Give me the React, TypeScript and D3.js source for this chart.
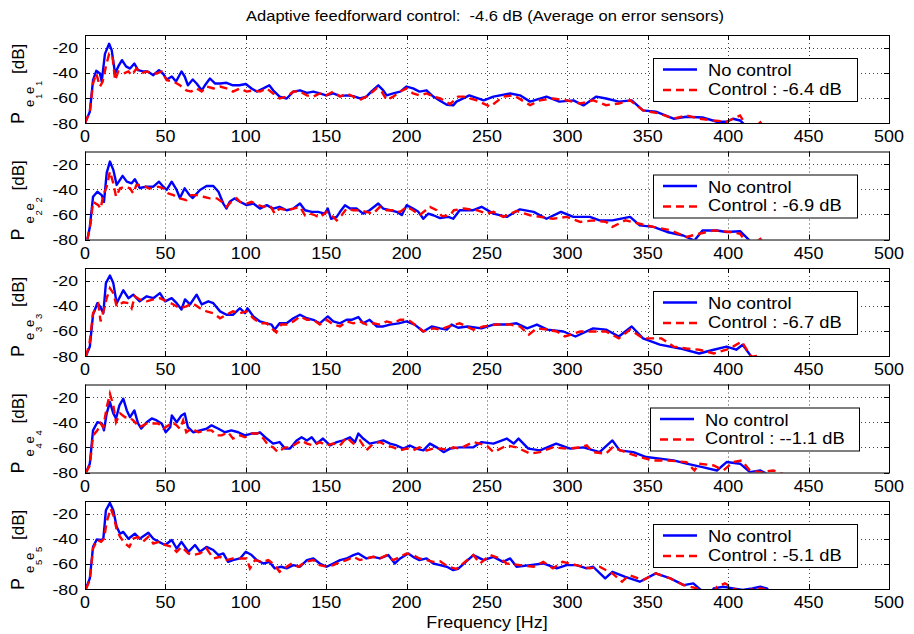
import React from 'react';
import * as d3 from 'd3';

type Pt = [number, number];

// frequency [Hz] / level [dB]
const freqTicks = [0, 50, 100, 150, 200, 250, 300, 350, 400, 450, 500];
const dbTicks = [-80, -60, -40, -20];
const controlGains = ['-6.4', '-6.9', '-6.7', '--1.1', '-5.1'];

const noControl1: Pt[] = [[0,-80],[3,-71],[5,-46],[7,-38.5],[9.3,-40.6],[10.4,-47],[12.4,-25],[15,-17],[16.6,-22],[18.7,-40.6],[20.7,-35],[23,-30],[25.5,-35],[28,-36.7],[30.7,-32.7],[33,-38],[36,-39],[39,-39],[42.5,-42],[46,-38],[48.7,-41],[50.8,-45.4],[54,-43],[56.6,-47],[60,-39],[62,-43],[64,-50],[67,-45.4],[69.4,-48.6],[72.6,-54],[74.6,-50],[77.7,-44.6],[81,-48.6],[84,-48.6],[88,-48],[92,-50],[96,-50],[100,-49],[103.6,-52.5],[106.8,-55],[111,-52.5],[114.6,-50],[117,-54],[121,-59],[125.4,-60.5],[129.6,-55],[133.7,-54],[138,-56],[142,-55],[146,-56.5],[150,-58],[154.4,-56.5],[158.6,-58.6],[162.7,-58],[166.9,-58.6],[171,-60.5],[175,-59],[178,-55],[182.4,-50],[185.5,-54],[187.6,-58],[191.7,-56.5],[196,-55],[200,-51],[204,-52.5],[208,-55],[212.4,-54],[216.6,-59],[221,-62.5],[225,-65.5],[229,-66],[231,-63],[239,-58],[248,-62],[254,-59],[264.4,-56.5],[270.5,-58],[276.8,-63],[287,-59],[295,-63],[303.7,-62],[310,-66],[318,-59],[324,-60.5],[332,-63],[340,-62],[347,-70],[355,-71],[366,-76.6],[374,-75],[384,-75.6],[393,-79],[399,-79],[403,-76.6],[407.4,-78],[411.5,-83],[414,-88]];
const control1: Pt[] = [[0,-80],[3,-71],[5,-48.6],[7,-40.6],[9.3,-51],[11,-47],[13,-35],[15,-25],[17,-26],[18.7,-46],[20.7,-39],[24,-40.6],[27,-39],[29,-42],[32,-36.7],[35,-40.6],[38,-39],[41.5,-40.6],[44.6,-40.6],[47.7,-39],[50.8,-46],[55,-47],[59,-50],[63,-54],[66,-55],[69.4,-52.5],[72.6,-55],[75.6,-51],[80,-52.5],[84,-51],[88,-52.5],[92,-55],[96.4,-52.5],[100.5,-55],[104.6,-54],[108.8,-55],[113,-52.5],[117,-56.5],[121,-60.5],[125.4,-59],[129.6,-55],[133.7,-55],[138,-58],[142,-59],[146,-56.5],[150,-58],[154.4,-55],[158.6,-59],[162.7,-56.5],[166.9,-59],[171,-61.6],[175,-59],[181.4,-52.5],[184.5,-55],[187.6,-61.6],[191.7,-59],[196,-55],[200,-52.5],[204,-56.5],[208,-58],[212.4,-56.5],[216.6,-59],[221,-60.5],[227,-65],[232,-59],[235.4,-59],[243.6,-62],[252,-67],[260,-59],[266.6,-58],[276.8,-65.8],[283,-62],[291,-60.5],[299.5,-62],[308,-64.5],[316,-62],[324,-65.8],[332,-64.5],[339,-62],[347,-70],[357,-72.4],[366,-76.6],[374,-74],[382,-76.6],[391,-78],[399,-79],[407.4,-74],[411.5,-83],[416,-84],[420,-79.5],[423,-85]];

const noControl2: Pt[] = [[1.5,-80],[3,-70],[5,-46],[7.7,-42],[10.4,-44.7],[11.8,-50],[13.5,-27],[15.5,-18],[17.6,-24.6],[19.7,-36.6],[23.4,-29.4],[26,-34],[29,-35.3],[31,-32],[34,-39],[38,-38],[42.5,-38],[46,-34],[48.7,-38],[50.8,-40.6],[53.9,-34],[57,-40.6],[59,-47],[62,-39.3],[65,-44.7],[67,-47],[71.5,-40.6],[75.6,-37.4],[79.8,-37.4],[83,-42],[86,-51.4],[88,-55.4],[90,-50],[93,-47.3],[96.4,-50],[100.5,-52.7],[104.7,-51.4],[108.8,-55.4],[113,-52.7],[117,-55.4],[121,-54],[125.4,-56.7],[129.6,-55.4],[133.7,-51.4],[136.8,-56.7],[141,-58],[145,-58],[149,-59.4],[151,-55.4],[153,-63.5],[156.5,-62],[158.6,-58],[161.7,-52.7],[164.8,-55.4],[169,-55.4],[173,-59.4],[177,-56.7],[182.4,-51.4],[185.5,-55.4],[189.7,-56.7],[193.8,-58],[197,-60.6],[200,-52.7],[204,-55.4],[207.3,-58],[210.4,-63.5],[213.5,-59.4],[216.6,-60.7],[220.8,-63],[226,-62],[229,-63.5],[233,-56.7],[241.5,-56.7],[246.6,-54],[254,-59.4],[262.3,-62],[270.5,-56],[279,-58],[287,-63.5],[296,-58],[303.7,-62],[314,-62],[320,-64.8],[328,-64.8],[339,-62],[345,-68.8],[353.5,-70],[362,-74],[372,-76.8],[379,-80.8],[384,-72.8],[393,-72.8],[399,-74],[407.4,-73.4],[413.5,-81],[416,-86]];
const control2: Pt[] = [[1.5,-80],[3.5,-67],[5,-50],[8.3,-52.7],[9.7,-55.4],[11.4,-44.7],[13.5,-38],[15.5,-26],[17.6,-35.3],[19.3,-46],[21.8,-39.3],[24.9,-38],[28,-39.3],[30,-43.3],[32,-36.6],[36,-36.6],[39.4,-39.3],[42.5,-39.3],[45.6,-38],[48.7,-39.3],[51.8,-43.3],[55,-44.7],[59,-47.3],[63,-48.7],[66,-44.7],[69.4,-44.7],[73.6,-46],[77.7,-47.3],[82,-47.3],[85,-50],[88,-54],[91,-50],[94.3,-47.3],[96.4,-50],[100.5,-51.4],[103.6,-50],[107.8,-52.7],[111,-54],[115,-52.7],[118,-59.4],[121,-55.4],[125.4,-56.7],[129.6,-55.4],[133.7,-54],[136.8,-60.7],[140,-59.4],[143,-60.7],[146,-62.6],[150.3,-58],[154.4,-62],[156.5,-64.8],[159.6,-60.7],[162.7,-55.4],[166.9,-56.7],[171,-56.7],[175,-58],[179.3,-59.4],[183.4,-54],[187.6,-56.7],[191.7,-56.7],[196,-58],[200,-54],[204,-56.7],[208,-60.7],[214.5,-54],[218.7,-56.7],[222,-61.5],[227,-60.7],[229.4,-56.7],[235.6,-55.4],[243.6,-56.7],[249.8,-59.4],[254,-58],[260,-62],[268.4,-57.3],[276.8,-60.7],[283,-62],[291,-63.5],[299.5,-62],[308,-66],[316,-64.8],[324,-66],[328,-70],[336,-64.8],[345,-67.5],[353.5,-70],[364,-72.6],[374,-78],[382,-75.4],[391,-72.8],[401,-74],[407.4,-75.4],[410.6,-81],[415,-84],[420,-79.5],[423,-85]];

const noControl3: Pt[] = [[0.6,-80],[3,-72.5],[5,-47],[7.7,-38],[9.3,-40.5],[11.4,-46],[13,-22],[15.5,-16],[17.6,-22],[19.7,-38],[23.8,-27.7],[27,-34],[30,-31.2],[34,-36.5],[38.4,-32.5],[42.5,-34],[46.6,-30],[49.8,-36.5],[53.9,-34],[57,-38],[60,-43],[62.2,-35],[65.3,-39],[69.4,-31.2],[72.6,-39],[76.7,-36.5],[79.8,-38],[84,-44.5],[88,-47.2],[92,-47.2],[96.4,-42],[99.5,-46],[101,-42],[104.7,-48.5],[108.8,-52.5],[113,-54],[116,-55],[118,-59],[121,-54],[125.4,-54],[129.6,-50],[133.7,-47.2],[138,-50],[142,-51.2],[146,-54],[151,-48.5],[154.4,-52.5],[158.6,-54],[162.7,-51.2],[165.8,-51.2],[170,-49],[173,-54],[177,-51.2],[181.4,-56.5],[185.5,-56.5],[189.7,-55],[195,-54],[200,-52.5],[205,-55],[210.4,-60.5],[215.6,-56.5],[220.8,-58],[225,-59],[228,-55],[232,-57.5],[238,-56.5],[246.6,-58],[254,-55],[262.3,-55],[268.4,-54],[275,-58],[281,-55],[287.6,-59],[297.5,-60.5],[305,-64.5],[316,-58],[324,-59],[332,-64.5],[340,-56.5],[347,-66],[357.5,-71],[370,-74],[382,-78],[391,-75],[399,-72.5],[405,-75],[409,-71],[414.4,-80.5],[418,-86]];
const control3: Pt[] = [[0.6,-80],[2.7,-71],[5,-46],[8.3,-39],[9.7,-52.5],[11.8,-43],[13.5,-34],[15.5,-26],[17.6,-30],[19.7,-40.5],[23.8,-37.3],[27,-38],[29,-42],[31,-32.5],[34,-35],[38.4,-36.5],[42.5,-35],[46.6,-34],[50.8,-36.5],[55,-39],[59,-42],[63,-40.5],[67,-38],[71.5,-42],[75.6,-44.5],[79.8,-46],[84,-50],[88,-47.2],[92,-44.5],[96.4,-46],[100.5,-44.5],[104.7,-50],[108.8,-54],[113,-54],[117,-59],[119,-61.3],[122,-55],[125.4,-55],[129.6,-52.5],[133.7,-48.5],[138,-51.2],[142,-51.2],[146,-55],[150.3,-51.2],[154.4,-55],[158.6,-56.5],[162.7,-52.5],[166.9,-54],[171,-52.5],[175,-55],[179.3,-54],[183.4,-55],[187.6,-52.5],[191.7,-54],[196,-51.2],[201,-51.2],[205,-55],[210.4,-60.5],[216.6,-58],[220.8,-59],[227,-56],[233,-54],[241.5,-59],[247.7,-56.5],[256,-55],[264.4,-55],[270.5,-56.5],[276,-63],[281,-58],[287.6,-59],[293.4,-60.5],[298.5,-64.5],[308,-60.5],[316,-60.5],[324,-60.5],[332,-66],[339,-59],[347,-66],[358.5,-66],[366,-72.5],[374,-74],[382,-75],[391,-78],[399,-75],[403,-72.5],[408.4,-68.5],[411.5,-75],[414.4,-80.5],[418,-80],[421,-85]];

const noControl4: Pt[] = [[0.6,-80],[3,-73],[5,-46.5],[7.7,-40],[10.4,-41],[11.8,-46.5],[13.5,-33],[15.5,-24],[17.6,-33],[19.3,-37],[21.4,-26.6],[23.8,-21.3],[26,-30.6],[28,-36],[30.7,-30.6],[33,-41],[35,-45],[38.4,-40],[41.5,-37],[44.6,-38.6],[47.7,-41],[50.2,-48],[53,-44],[54,-34.6],[57,-40],[60,-34.6],[62,-33],[64,-44],[67.4,-48],[71.5,-46.5],[75.6,-45.2],[78.7,-42.5],[83,-45.2],[87,-48],[91,-46.5],[95.3,-48],[99.5,-50.5],[103.6,-49],[106.8,-49],[108.8,-48],[113,-53],[117,-57],[121,-55.8],[124.4,-61],[127.5,-61],[131.6,-54.5],[134.7,-52],[138,-54.5],[141,-52],[144,-57],[148,-53],[152.4,-58.5],[156.5,-55.8],[160.6,-54.5],[164.8,-52],[167.9,-55.8],[170,-49],[173,-53],[177,-57],[181.4,-55.8],[185.5,-54.5],[189.7,-57],[193.8,-58.5],[198,-61],[202,-58.5],[206,-61],[210.4,-62.4],[214.5,-57],[218.7,-60],[223,-63.8],[227,-61],[233,-60],[241.5,-60],[246.6,-55.8],[254,-57],[262.3,-53],[266.6,-57],[269.6,-53],[275.7,-61],[283,-62.4],[293,-57],[301.6,-61],[310,-60],[320,-63.8],[328,-54.5],[332.5,-62.4],[341,-63.8],[349,-67.7],[357.5,-69],[366,-70.4],[374,-73],[384,-75.7],[393,-78.4],[399,-71.7],[407.4,-73],[413.5,-79.7],[420,-78.4],[424,-81],[427,-85]];
const control4: Pt[] = [[0.6,-80],[3,-74.4],[5,-50.5],[7.7,-46.5],[9.7,-41],[11.4,-44],[13.5,-28],[15.5,-17.3],[17.6,-26.6],[19.3,-40],[21.8,-33],[24.9,-36],[27.6,-36],[30,-38.6],[34,-44],[38.4,-41],[42.5,-41],[45.6,-41],[48.7,-45.2],[52,-42.5],[54,-40],[57,-42.5],[59,-45.2],[61,-38.6],[63,-48],[66.3,-45.2],[70.5,-48],[74.6,-46.5],[78.7,-46.5],[82,-50.5],[85,-50.5],[89,-48],[92,-53],[96.4,-50.5],[99.5,-52],[103.6,-49],[107.8,-49],[111,-53],[114,-58.5],[117,-60],[120,-63.8],[124.4,-60],[127.5,-60],[131.6,-57],[134.7,-54.5],[138,-57],[142,-58.5],[146,-55.8],[150.3,-58.5],[154.4,-57],[158.6,-58.5],[162.7,-52],[166.9,-57],[171,-54.5],[175,-62.4],[179.3,-57],[183.4,-55.8],[187.6,-58.5],[191.7,-60],[196,-62.4],[200,-61],[204,-62.4],[208,-60],[212.4,-62.4],[216.6,-61],[220.8,-61],[226,-62],[229,-60],[233,-61],[241.5,-55.8],[249.8,-58.5],[254,-63.8],[262.3,-58.5],[268.4,-60],[276.8,-65],[283,-63.8],[291,-60],[299.5,-61],[308,-60],[312,-58.5],[316,-63.8],[324,-65],[328,-60],[336,-63.8],[345,-67.7],[353.5,-70.4],[361.6,-70.4],[374,-71.7],[379,-78.4],[382,-73],[391,-74.4],[397,-78.4],[403,-71.7],[408.4,-70.4],[413.5,-78.4],[420,-79.7],[428,-78.4],[434,-81],[437,-85]];

const noControl5: Pt[] = [[0.6,-79.5],[3,-71.6],[5,-46.5],[7.3,-40.6],[10,-41],[11.4,-40],[13,-17.4],[15.5,-11.5],[17.6,-17.4],[19.7,-30.6],[21.8,-36],[23.8,-34.6],[27,-40],[31,-36],[34,-40],[39.4,-35.3],[42.5,-40],[46,-42.5],[49.8,-45],[53.9,-41],[57,-47.8],[60,-42.5],[64.3,-50.4],[68.4,-45],[71.5,-50.4],[75.6,-46.5],[79.8,-49],[83,-53],[86,-51.7],[89,-58.4],[92,-57],[96.4,-55.7],[100,-50.4],[103.6,-53],[106.8,-57],[111,-59.7],[114.6,-58.4],[118,-63.6],[122,-62.3],[125.4,-63.6],[129.6,-61],[133.7,-62.3],[138,-57],[142,-55.7],[146,-59.7],[150.3,-62.3],[154.4,-59.7],[158.6,-57],[162.7,-55.7],[166.9,-53],[170,-51.7],[175,-55.7],[179.3,-54.4],[183.4,-55.7],[188.6,-53],[192.7,-59.7],[196,-55.7],[201,-51.7],[204,-54.4],[208,-57],[212.4,-55.7],[216.6,-59.7],[220.8,-61],[225,-62.3],[229,-65],[232,-64],[241.5,-53],[248,-57],[254,-54.4],[260,-58.4],[264.4,-55.7],[268.4,-62.3],[276.8,-61],[285,-59.7],[293.4,-63.6],[299.5,-61],[305.6,-61],[312,-63.6],[316,-62.3],[323.5,-71.6],[328,-66.3],[336,-70.3],[345,-74.2],[355,-67.6],[364,-71.6],[372.4,-76.9],[378.3,-75.5],[383,-80.8],[387,-85],[390,-82],[391,-79.5],[397,-78.2],[403,-79.5],[409,-80.8],[415,-79.5],[420,-78.2],[424,-79.5],[427,-84]];
const control5: Pt[] = [[0.6,-80],[3,-73],[5,-47.8],[7.7,-41],[10,-42.5],[11.8,-40],[13.5,-26.6],[16,-16],[18,-22.6],[19.7,-33],[21.8,-38.5],[24.9,-43.8],[27.6,-46.5],[30,-40],[33,-38.5],[36,-42.5],[39.4,-38.5],[42.5,-43.8],[46,-42.5],[49.8,-45],[53.9,-46.5],[57,-50.4],[60,-46.5],[64.3,-51.7],[67.4,-53],[71.5,-51.7],[75.6,-47.8],[79.8,-55.7],[84,-54.4],[88,-57],[92,-55.7],[96.4,-55.7],[100.5,-55.7],[102.6,-63.6],[105.7,-57],[110,-58.4],[114,-57],[118,-61],[121,-66.3],[125.4,-62.3],[128.6,-59.7],[132.7,-62.3],[137,-58.4],[142,-57],[146,-61],[150.3,-62.3],[154.4,-61],[158.6,-58.4],[162.7,-57],[166.9,-54.4],[171,-57],[175,-55.7],[179.3,-54.4],[183.4,-55.7],[187.6,-53],[191.7,-57],[196,-54.4],[200,-51.7],[204,-53],[208,-55.7],[212.4,-57],[216.6,-58.4],[220.8,-58],[226,-62.3],[231,-64],[241.5,-53],[245.6,-59.7],[252,-53],[258,-55.7],[262.3,-59.7],[270.5,-61],[279,-62.3],[285,-58.4],[291,-63.6],[297,-58.4],[305.6,-61],[314,-63.6],[320,-62.3],[328,-67.6],[334,-74.2],[338.5,-68.9],[347,-72.9],[355,-67.6],[364,-71.6],[372.4,-76.9],[380.4,-79.5],[384,-85],[390,-84],[393,-78.2],[398,-75.5],[403,-79.5],[408,-82],[413.5,-80.8],[420,-79.5],[424,-80.8],[427,-85]];

const noControlSeries = [noControl1, noControl2, noControl3, noControl4, noControl5];
const controlSeries = [control1, control2, control3, control4, control5];

const W = 914;
const H = 634;
const left = 85;
const right = 889;
const firstTop = 35;
const panelStep = 116.5;
const panelH = 88;
const font = '"Liberation Sans", Arial, Helvetica, sans-serif';

const x = d3.scaleLinear().domain([0, 500]).range([left, right]);

function Legend({ top, gain }) {
    const long = gain.length > 4;
    const x0 = long ? 650 : 653;
    const x1 = long ? 859 : 857;
    const y0 = top + 23;
    return (
        <g>
            <rect x={x0 + 0.5} y={y0 + 0.5} width={x1 - x0} height={43} fill="#fff" stroke="#000" strokeWidth={1}/>
            <line x1={x0 + 10} x2={x0 + 44} y1={y0 + 11.5} y2={y0 + 11.5} stroke="#0000ff" strokeWidth={2.6}/>
            <line x1={x0 + 10} x2={x0 + 44} y1={y0 + 32} y2={y0 + 32} stroke="#ff0000" strokeWidth={2.6} strokeDasharray="8 5"/>
            <text transform={`translate(${x0 + 55},${y0 + 18}) scale(1.08,1)`} fontSize={17}>No control</text>
            <text transform={`translate(${x0 + 55},${y0 + 36.5}) scale(1.08,1)`} fontSize={17}>{`Control : ${gain} dB`}</text>
        </g>
    );
}

function Panel({ index }) {
    const top = firstTop + index * panelStep;
    const bottom = top + panelH;
    const y = d3.scaleLinear().domain([-80, -10]).range([bottom, top]);
    const line = d3.line<Pt>().x(d => x(d[0])).y(d => y(d[1]));
    const clipId = 'clip' + index;
    const n = index + 1;
    return (
        <g>
            <clipPath id={clipId}>
                <rect x={left} y={top} width={right - left} height={panelH}/>
            </clipPath>
            {freqTicks.slice(1, -1).map(t => (
                <line key={'gx' + t} x1={Math.round(x(t)) + 0.5} x2={Math.round(x(t)) + 0.5} y1={top} y2={bottom}
                      stroke="#444" strokeWidth={1} strokeDasharray="1 3"/>
            ))}
            {dbTicks.slice(1).map(t => (
                <line key={'gy' + t} x1={left} x2={right} y1={Math.round(y(t)) + 0.5} y2={Math.round(y(t)) + 0.5}
                      stroke="#444" strokeWidth={1} strokeDasharray="1 3"/>
            ))}
            <g clipPath={`url(#${clipId})`}>
                <path d={line(noControlSeries[index])} fill="none" stroke="#0000ff" strokeWidth={2.4} strokeLinejoin="round"/>
                <path d={line(controlSeries[index])} fill="none" stroke="#ff0000" strokeWidth={2.4} strokeDasharray="8 5"/>
            </g>
            <rect x={left + 0.5} y={top + 0.5} width={right - left} height={panelH} fill="none" stroke="#000" strokeWidth={1}/>
            {freqTicks.map(t => (
                <g key={'tx' + t}>
                    <line x1={Math.round(x(t)) + 0.5} x2={Math.round(x(t)) + 0.5} y1={bottom} y2={bottom - 5} stroke="#000"/>
                    <line x1={Math.round(x(t)) + 0.5} x2={Math.round(x(t)) + 0.5} y1={top} y2={top + 5} stroke="#000"/>
                    <text transform={`translate(${x(t)},${bottom + 19}) scale(1.12,1)`} textAnchor="middle" fontSize={16}>{t}</text>
                </g>
            ))}
            {dbTicks.map(t => (
                <g key={'ty' + t}>
                    <line x1={left} x2={left + 5} y1={Math.round(y(t)) + 0.5} y2={Math.round(y(t)) + 0.5} stroke="#000"/>
                    <line x1={right} x2={right - 5} y1={Math.round(y(t)) + 0.5} y2={Math.round(y(t)) + 0.5} stroke="#000"/>
                    <text transform={`translate(${left - 7},${y(t) + 5.5}) scale(1.18,1)`} textAnchor="end" fontSize={15}>{t}</text>
                </g>
            ))}
            <g transform={`translate(24,${bottom + 1}) rotate(-90)`}>
                <text x={0} y={0} fontSize={18}>P</text>
                <text x={17} y={10} fontSize={13}>e</text>
                <text x={25} y={18} fontSize={9.5}>{n}</text>
                <text x={30} y={10} fontSize={13}>e</text>
                <text x={38} y={18} fontSize={9.5}>{n}</text>
                <text x={50} y={0} fontSize={17}>[dB]</text>
            </g>
            <Legend top={top} gain={controlGains[index]}/>
        </g>
    );
}

export default function App() {
    return (
        <div style={{ position: 'absolute', left: 0, top: 0 }}>
            <svg width={W} height={H} style={{ display: 'block', background: '#fff' }} fontFamily={font}>
                <rect width={W} height={H} fill="#fff"/>
                <text transform={`translate(485,21) scale(1.1,1)`} textAnchor="middle" fontSize={15} style={{ whiteSpace: 'pre' }}>
                    {'Adaptive feedforward control:  -4.6 dB (Average on error sensors)'}
                </text>
                {[0, 1, 2, 3, 4].map(i => <Panel key={i} index={i}/>)}
                <text transform={`translate(487,628) scale(1.12,1)`} textAnchor="middle" fontSize={16}>Frequency [Hz]</text>
            </svg>
        </div>
    );
}
